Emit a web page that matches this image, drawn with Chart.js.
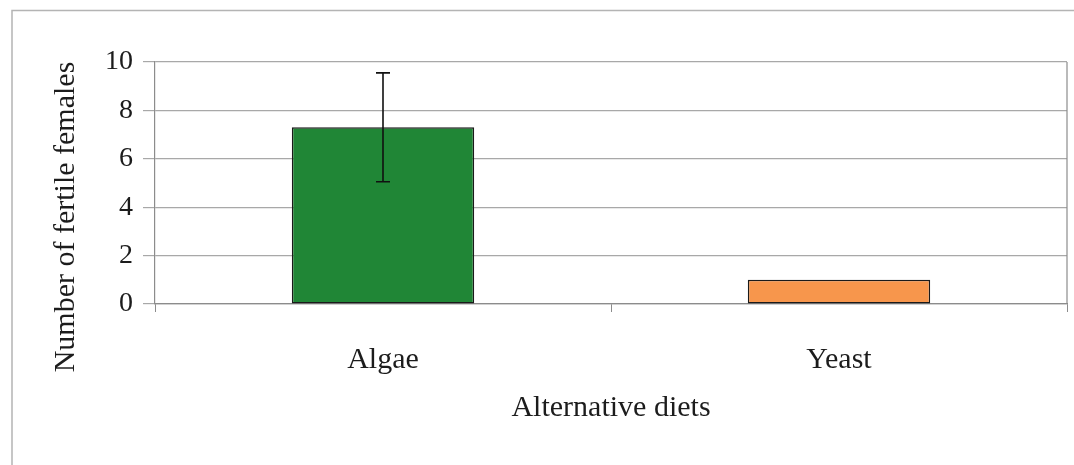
<!DOCTYPE html>
<html>
<head>
<meta charset="utf-8">
<script src="https://cdn.jsdelivr.net/npm/chart.js@4/dist/chart.umd.min.js"></script>
<style>
  html, body { margin: 0; padding: 0; background: #fff; }
  canvas { display: block; }
</style>
</head>
<body>
<canvas id="myChart" width="1074" height="465"></canvas>
<script>
const diets = ["Algae", "Yeast"];
const fertileFemales = [7.3, 1.0];
const errorSize = [2.25, 0];
const yTicks = [0, 2, 4, 6, 8, 10];

const serif = "'Liberation Serif', 'Times New Roman', serif";
const textColor = "#1c1c1c";

// frame, plot border, y title and error bars
const extras = {
  id: "extras",
  beforeDraw(chart) {
    const c = chart.ctx;
    c.save();
    c.strokeStyle = "#b4b4b4";
    c.lineWidth = 1.5;
    c.beginPath();
    c.moveTo(12, 465);
    c.lineTo(12, 10.5);
    c.lineTo(1074, 10.5);
    c.stroke();
    c.restore();
  },
  afterDraw(chart) {
    const c = chart.ctx;
    const area = chart.chartArea;
    c.save();
    c.strokeStyle = "#8c8c8c";
    c.lineWidth = 1.2;
    c.beginPath();
    c.moveTo(area.right, area.top);
    c.lineTo(area.right, area.bottom);
    c.stroke();

    c.fillStyle = textColor;
    c.font = "30px " + serif;
    c.textAlign = "center";
    c.textBaseline = "middle";
    c.translate(66, 217);
    c.rotate(-Math.PI / 2);
    c.fillText("Number of fertile females", 0, 0);
    c.restore();
  },
  afterDatasetsDraw(chart) {
    const c = chart.ctx;
    const y = chart.scales.y;
    const meta = chart.getDatasetMeta(0);
    c.save();
    c.strokeStyle = "#111";
    c.lineWidth = 1.6;
    meta.data.forEach((bar, i) => {
      const err = errorSize[i];
      if (!err) return;
      const top = y.getPixelForValue(fertileFemales[i] + err);
      const bot = y.getPixelForValue(fertileFemales[i] - err);
      c.beginPath();
      c.moveTo(bar.x, top);
      c.lineTo(bar.x, bot);
      c.moveTo(bar.x - 7, top);
      c.lineTo(bar.x + 7, top);
      c.moveTo(bar.x - 7, bot);
      c.lineTo(bar.x + 7, bot);
      c.stroke();
    });
    c.restore();
  }
};

const ctx = document.getElementById("myChart").getContext("2d");
new Chart(ctx, {
  type: "bar",
  data: {
    labels: diets,
    datasets: [
      {
        data: fertileFemales,
        backgroundColor: ["#208636", "#f7964c"],
        borderColor: "#1a1a1a",
        borderWidth: 1.5,
        borderSkipped: false,
        barPercentage: 0.4,
        categoryPercentage: 1.0,
      },
    ],
  },
  options: {
    responsive: false,
    animation: false,
    layout: { padding: { top: 62, right: 7, left: 0, bottom: 0 } },
    plugins: {
      legend: { display: false },
      tooltip: { enabled: false },
    },
    scales: {
      x: {
        grid: {
          offset: true,
          drawOnChartArea: false,
          tickLength: 8,
          color: "#8c8c8c",
        },
        border: { color: "#8c8c8c", width: 1.2 },
        ticks: {
          color: textColor,
          font: { family: serif, size: 30 },
          padding: 30,
        },
        title: {
          display: true,
          text: "Alternative diets",
          color: textColor,
          font: { family: serif, size: 30 },
          padding: { top: 0, bottom: 39 },
        },
        afterFit: (scale) => { scale.height = 161; },
      },
      y: {
        min: 0,
        max: 10,
        afterBuildTicks: (scale) => {
          scale.ticks = yTicks.map((v) => ({ value: v }));
        },
        grid: {
          color: "#a8a8a8",
          lineWidth: 1.2,
          tickLength: 12,
        },
        border: { color: "#8c8c8c", width: 1.2 },
        ticks: {
          color: textColor,
          font: { family: serif, size: 28 },
          padding: 10,
        },
        afterFit: (scale) => { scale.width = 155; },
      },
    },
  },
  plugins: [extras],
});
</script>
</body>
</html>
